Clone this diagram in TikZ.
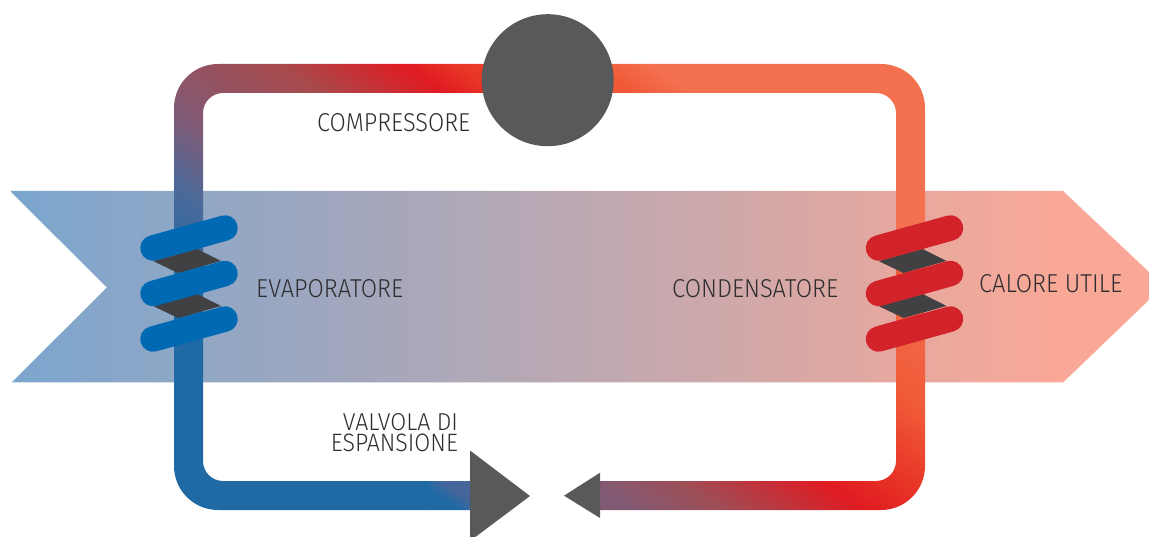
\documentclass[tikz,border=0pt]{standalone}
\usepackage{fontspec}
\usepackage{graphicx}
\newfontfamily\lblfont{Fira Sans Light}
\definecolor{pblue}{HTML}{1F6AA5}
\definecolor{pb2}{HTML}{4A6A9A}
\definecolor{ppur}{HTML}{805A75}
\definecolor{pmau}{HTML}{A84A4C}
\definecolor{pred}{HTML}{E01B22}
\definecolor{pr2}{HTML}{E83526}
\definecolor{por1}{HTML}{F05A38}
\definecolor{por}{HTML}{F47150}
\definecolor{pm2}{HTML}{9C4F58}
\definecolor{pb3}{HTML}{46659A}
\definecolor{bgl}{HTML}{7BA6CE}
\definecolor{bgm}{HTML}{BBA8B2}
\definecolor{bgr}{HTML}{F9A897}
\definecolor{cblue}{HTML}{0069B4}
\definecolor{cred}{HTML}{D2232A}
\definecolor{cdark}{HTML}{414042}
\definecolor{unit}{HTML}{58595B}
\definecolor{txt}{HTML}{2E2E30}
% u = t + 200, t = 0.57 x - 0.82 y (pixels)
\pgfdeclarehorizontalshading{gradtop}{3000bp}{color(0bp)=(pblue); color(60bp)=(pblue); color(147bp)=(pb2); color(209bp)=(ppur); color(307bp)=(pmau); color(379bp)=(pred); color(408bp)=(pr2); color(487bp)=(por1); color(522bp)=(por); color(1200bp)=(por)}
\pgfdeclarehorizontalshading{gradlow}{3000bp}{color(0bp)=(ppur); color(142bp)=(ppur); color(193bp)=(pm2); color(277bp)=(pred); color(325bp)=(pr2); color(391bp)=(por1); color(514bp)=(por); color(1200bp)=(por)}
\pgfdeclarehorizontalshading{gradend}{3000bp}{color(0bp)=(pblue); color(45bp)=(pblue); color(60bp)=(pb3); color(1200bp)=(pb3)}
\pgfdeclarehorizontalshading{gradband}{400bp}{color(0bp)=(bgl); color(560bp)=(bgm); color(1040bp)=(bgr); color(1140bp)=(bgr)}
\newcommand{\diagshade}[1]{\begin{scope}[shift={(-114bp,-164bp)},rotate=55]\pgftext[left,at=\pgfpointorigin]{\pgfuseshading{#1}}\end{scope}}
\tikzset{
  coilblue/.style={draw=cblue,line width=25.5bp,line cap=round},
  coilred/.style={draw=cred,line width=25.5bp,line cap=round},
  coilweb/.style={fill=cdark},
  lbl/.style={inner sep=0pt,anchor=south west,text=txt},
  unitfill/.style={fill=unit}
}
\newcommand{\fit}[3]{\resizebox{#1bp}{#2bp}{\lblfont #3}}
\begin{document}
\begin{tikzpicture}[x=1bp,y=-1bp]
\useasboundingbox (0,0) rectangle (1149,537);
% heat band
\begin{scope}
  \clip (10,191) -- (1063,191) -- (1149,272) -- (1149,300) -- (1063,382.5) -- (11.5,382.5) -- (107,287.5) -- cycle;
  \begin{scope}[shift={(10bp,-287bp)}]
    \pgftext[left,at=\pgfpointorigin]{\pgfuseshading{gradband}}
  \end{scope}
\end{scope}
% pipe
\begin{scope}
  \clip[rounded corners=44bp] (174,64) -- (925,64) -- (925,510) -- (174,510) -- cycle
     [rounded corners=20bp] (203,93) -- (203,481) -- (896,481) -- (896,93) -- cycle;
  \begin{scope}
    \clip (170,60) rectangle (930,285);
    \diagshade{gradtop}
  \end{scope}
  \fill[pblue] (170,285) rectangle (431,515);
  \begin{scope}
    \clip (430,470) rectangle (480,515);
    \diagshade{gradend}
  \end{scope}
  \begin{scope}
    \clip (590,285) rectangle (930,515);
    \diagshade{gradlow}
  \end{scope}
\end{scope}
% compressor
\fill[unitfill] (547.7,80.2) circle[radius=66];
% valve
\fill[unitfill] (470,450.5) -- (530,496) -- (470,541) -- cycle;
\fill[unitfill] (600,472.7) -- (564,495.7) -- (600,518) -- cycle;
% evaporator coil
\fill[coilweb] (153,261) -- (197,249) -- (221,261) -- (178,273) -- cycle;
\fill[coilweb] (153,306) -- (197,294) -- (221,306) -- (178,318) -- cycle;
\draw[coilblue] (153,248) -- (225,228);
\draw[coilblue] (153,293.5) -- (225,273.5);
\draw[coilblue] (153,339) -- (225,319);
% condenser coil
\fill[coilweb] (878.5,261) -- (922.5,249) -- (946.5,261) -- (903.5,273) -- cycle;
\fill[coilweb] (878.5,306) -- (922.5,294) -- (946.5,306) -- (903.5,318) -- cycle;
\draw[coilred] (878.5,248) -- (950.5,228);
\draw[coilred] (878.5,293.5) -- (950.5,273.5);
\draw[coilred] (878.5,339) -- (950.5,319);
% labels
\node[lbl] (compressore) at (317,132) {\fit{153}{18}{COMPRESSORE}};
\node[lbl] (evaporatore) at (256,297.5) {\fit{147}{18}{EVAPORATORE}};
\node[lbl] (condensatore) at (672,297.5) {\fit{166}{18}{CONDENSATORE}};
\node[lbl] (calore) at (979,292.5) {\fit{143}{18}{CALORE UTILE}};
\node[lbl] (valvola) at (342.7,431) {\fit{115}{17}{VALVOLA DI}};
\node[lbl] (espansione) at (330.7,452) {\fit{127}{17.5}{ESPANSIONE}};
\end{tikzpicture}
\end{document}
